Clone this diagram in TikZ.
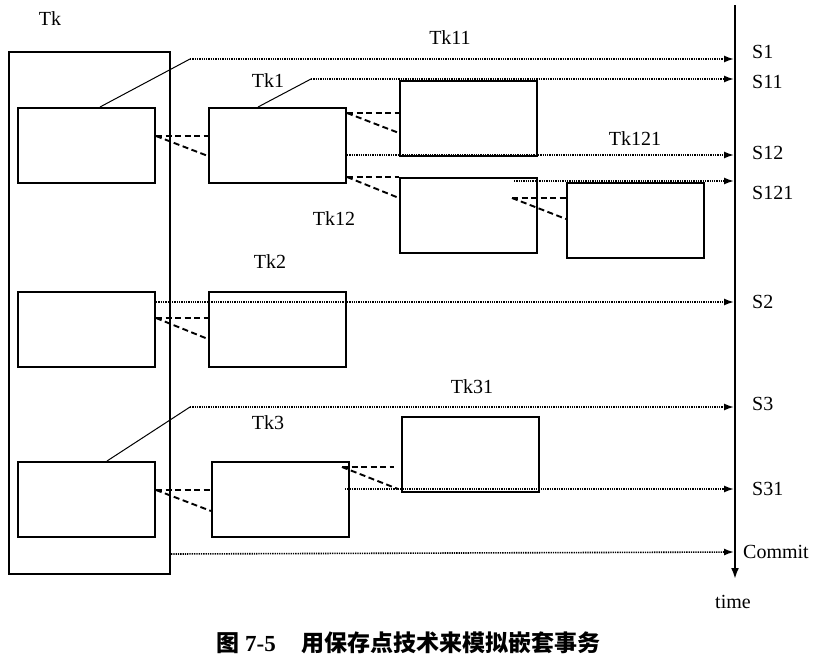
\documentclass[tikz,border=0pt]{standalone}
\usepackage{fontspec}
\setmainfont{Liberation Serif}
\newfontfamily\cjk{Noto Sans CJK SC}
\usetikzlibrary{arrows.meta, calc}

\begin{document}
\begin{tikzpicture}[x=1pt, y=-1pt,
	font=\fontsize{20pt}{24pt}\selectfont,
	box/.style={draw, line width=2pt, minimum width=137pt, minimum height=75pt, inner sep=0pt, anchor=north west},
	svpt/.style={dash pattern=on 1.3pt off 1pt, line width=1.6pt, -{Latex[length=10pt,width=7pt]}},
	sub/.style={dash pattern=on 6pt off 3.5pt, line width=1.9pt},
	lead/.style={line width=1pt},
	slbl/.style={anchor=west, inner sep=0pt}]
	\useasboundingbox (0,0) rectangle (824,659);
	
	% time axis
	\coordinate (top) at (735,5);
	\coordinate (bot) at (735,579);
	\draw[line width=2.8pt, -{Latex[length=11pt,width=8pt]}] (top) -- (bot);
	\node (time) at (733,602) {time};
	
	% transaction boxes
	\node[box, minimum width=161pt, minimum height=522pt] (tk) at (8,51) {};
	\node[box] (a) at (17,107) {};
	\node[box] (b) at (17,291) {};
	\node[box] (c) at (17,461) {};
	\node[box] (tk1) at (208,107) {};
	\node[box] (tk11) at (399,80) {};
	\node[box] (tk12) at (399,177) {};
	\node[box] (tk121) at (566,182) {};
	\node[box] (tk2) at (208,291) {};
	\node[box] (tk3) at (211,461) {};
	\node[box] (tk31) at (401,416) {};
	
	\node (ltk) at (50,19) {Tk};
	\node (ltk1) at (268,81) {Tk1};
	\node (ltk11) at (450,38) {Tk11};
	\node (ltk12) at (334,219) {Tk12};
	\node (ltk121) at (635,139) {Tk121};
	\node (ltk2) at (270,262) {Tk2};
	\node (ltk3) at (268,423) {Tk3};
	\node (ltk31) at (472,387) {Tk31};
	
	% savepoints
	\coordinate (k1) at (190,59);
	\coordinate (k11) at (311,79);
	\coordinate (k3) at (190,407);
	\coordinate (e1) at (734,59);
	\coordinate (e11) at (734,79);
	\coordinate (e12) at (734,155);
	\coordinate (e121) at (734,181);
	\coordinate (e2) at (734,302);
	\coordinate (e3) at (734,407);
	\coordinate (e31) at (734,489);
	\coordinate (ec) at (734,552);
	
	\draw[lead] ($(a.north west)+(83,0)$) -- (k1);
	\draw[svpt] (k1) -- (e1);
	\draw[lead] ($(tk1.north west)+(50,0)$) -- (k11);
	\draw[svpt] (k11) -- (e11);
	\draw[svpt] ($(tk1.north east)+(0,48)$) -- (e12);
	\draw[svpt] ($(tk12.north east)+(-24,4)$) -- (e121);
	\draw[svpt] ($(b.north east)+(0,11)$) -- (e2);
	\draw[lead] ($(c.north west)+(90,0)$) -- (k3);
	\draw[svpt] (k3) -- (e3);
	\draw[svpt] ($(tk3.north east)+(-5,28)$) -- (e31);
	\draw[svpt] ($(tk.south east)+(0,-21)$) -- (ec);
	
	\node[slbl] (s1) at (752,52) {S1};
	\node[slbl] (s11) at (752,82) {S11};
	\node[slbl] (s12) at (752,153) {S12};
	\node[slbl] (s121) at (752,193) {S121};
	\node[slbl] (s2) at (752,302) {S2};
	\node[slbl] (s3) at (752,404) {S3};
	\node[slbl] (s31) at (752,489) {S31};
	\node[slbl] (commit) at (743,552) {Commit};
	
	% nested calls
	\draw[sub] ($(a.north east)+(0,29)$) -- ($(tk1.north west)+(0,29)$);
	\draw[sub] ($(a.north east)+(0,29)$) -- ($(tk1.north west)+(0,49)$);
	\draw[sub] ($(tk1.north east)+(0,6)$) -- ($(tk11.north west)+(0,33)$);
	\draw[sub] ($(tk1.north east)+(0,6)$) -- ($(tk11.north west)+(0,53)$);
	\draw[sub] ($(tk1.north east)+(0,70)$) -- (tk12.north west);
	\draw[sub] ($(tk1.north east)+(0,70)$) -- ($(tk12.north west)+(0,21)$);
	\draw[sub] ($(tk12.north east)+(-26,21)$) -- ($(tk121.north west)+(0,16)$);
	\draw[sub] ($(tk12.north east)+(-26,21)$) -- ($(tk121.north west)+(0,37)$);
	\draw[sub] ($(b.north east)+(0,27)$) -- ($(tk2.north west)+(0,27)$);
	\draw[sub] ($(b.north east)+(0,27)$) -- ($(tk2.north west)+(0,48)$);
	\draw[sub] ($(c.north east)+(0,29)$) -- ($(tk3.north west)+(0,29)$);
	\draw[sub] ($(c.north east)+(0,29)$) -- ($(tk3.north west)+(0,50)$);
	\draw[sub] ($(tk3.north east)+(-8,6)$) -- ($(tk31.north west)+(-7,51)$);
	\draw[sub] ($(tk3.north east)+(-8,6)$) -- ($(tk31.north west)+(-3,73)$);
	
	\node[anchor=west, inner sep=0pt, font=\fontsize{23pt}{26pt}\selectfont] (cap) at (216,643)
		{{\cjk\bfseries 图}\hspace{6pt}{\bfseries 7-5}\hspace{26pt}{\cjk\bfseries 用保存点技术来模拟嵌套事务}};
\end{tikzpicture}
\end{document}
